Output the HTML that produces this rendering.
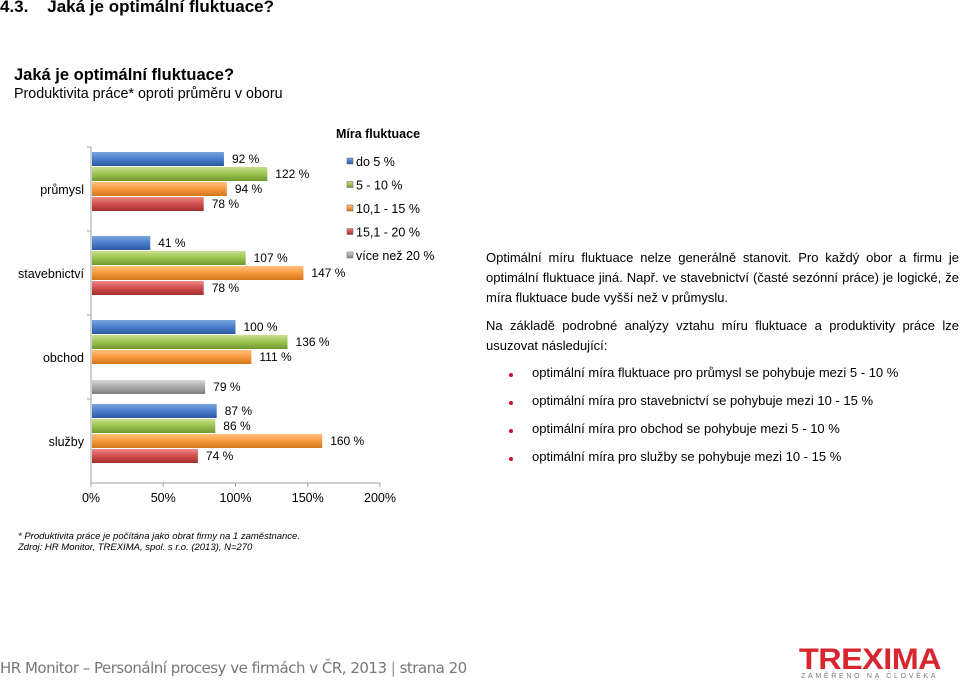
<!DOCTYPE html>
<html><head><meta charset="utf-8"><style>
body{margin:0;width:960px;height:684px;background:#fff;position:relative;overflow:hidden;font-family:"Liberation Sans",Arial,sans-serif;color:#000}
.a{position:absolute;white-space:nowrap}
.p{position:absolute;left:486px;width:473px;font-size:13px;line-height:20px;text-align:justify;color:#000}
.b{position:absolute;left:532px;font-size:13px}
.dot{position:absolute;left:509px;width:4px;height:4px;border-radius:50%;background:#c8102e}
</style></head><body>
<div class="a" style="left:0;top:-3px;font-size:17px;font-weight:bold">4.3.&nbsp;&nbsp;&nbsp;&nbsp;Jaká je optimální fluktuace?</div>
<div class="a" style="left:14px;top:66px;font-size:16.5px;font-weight:bold">Jaká je optimální fluktuace?</div>
<div class="a" style="left:14px;top:86px;font-size:14.3px">Produktivita práce* oproti průměru v oboru</div>

<svg id="chart" width="480" height="520" style="position:absolute;left:0;top:0" font-family="Liberation Sans, Arial, sans-serif">
<defs>
<linearGradient id="g0" x1="0" y1="0" x2="0" y2="1"><stop offset="0" stop-color="#7aa4e0"/><stop offset=".5" stop-color="#4a7dcb"/><stop offset="1" stop-color="#2c5aa0"/></linearGradient>
<linearGradient id="g1" x1="0" y1="0" x2="0" y2="1"><stop offset="0" stop-color="#c8e08a"/><stop offset=".5" stop-color="#9bc350"/><stop offset="1" stop-color="#6f9630"/></linearGradient>
<linearGradient id="g2" x1="0" y1="0" x2="0" y2="1"><stop offset="0" stop-color="#ffc080"/><stop offset=".5" stop-color="#f79a3c"/><stop offset="1" stop-color="#d2751d"/></linearGradient>
<linearGradient id="g3" x1="0" y1="0" x2="0" y2="1"><stop offset="0" stop-color="#ec8a88"/><stop offset=".5" stop-color="#cf4e4c"/><stop offset="1" stop-color="#a32f2d"/></linearGradient>
<linearGradient id="g4" x1="0" y1="0" x2="0" y2="1"><stop offset="0" stop-color="#d8d8d8"/><stop offset=".5" stop-color="#a8a8a8"/><stop offset="1" stop-color="#808080"/></linearGradient>
</defs>
</svg>

<div class="p" style="top:248px">Optimální míru fluktuace nelze generálně stanovit. Pro každý obor a firmu je optimální fluktuace jiná. Např. ve stavebnictví (časté sezónní práce) je logické, že míra fluktuace bude vyšší než v průmyslu.</div>
<div class="p" style="top:316px">Na základě podrobné analýzy vztahu míru fluktuace a produktivity práce lze usuzovat následující:</div>
<div class="dot" style="top:373px"></div>
<div class="b" style="top:365px">optimální míra fluktuace pro průmysl se pohybuje mezi 5 - 10 %</div>
<div class="dot" style="top:401px"></div>
<div class="b" style="top:393px">optimální míra pro stavebnictví se pohybuje mezi 10 - 15 %</div>
<div class="dot" style="top:429px"></div>
<div class="b" style="top:421px">optimální míra pro obchod se pohybuje mezi 5 - 10 %</div>
<div class="dot" style="top:457px"></div>
<div class="b" style="top:449px">optimální míra pro služby se pohybuje mezi 10 - 15 %</div>

<div class="a" style="left:18px;top:531px;font-size:9.5px;font-style:italic;line-height:11px">* Produktivita práce je počítána jako obrat firmy na 1 zaměstnance.<br>Zdroj: HR Monitor, TREXIMA, spol. s r.o.  (2013), N=270</div>
<div class="a" style="left:0;top:659px;font-size:15px;color:#777;font-family:'DejaVu Sans',sans-serif;letter-spacing:-0.5px">HR Monitor – Personální procesy ve firmách v ČR, 2013 <span style="color:#999">|</span> strana 20</div>
<div class="a" style="left:799px;top:643px;font-size:30px;font-weight:bold;color:#d7262f;letter-spacing:-0.5px;transform:scaleX(1.08);transform-origin:left">TREXIMA</div>
<div class="a" style="left:801px;top:673px;font-size:7px;color:#777;letter-spacing:2.7px">ZAMĚŘENO NA ČLOVĚKA</div>

<script>
const categories=["průmysl","stavebnictví","obchod","služby"];
const seriesNames=["do 5 %","5 - 10 %","10,1 - 15 %","15,1 - 20 %","více než 20 %"];
const s1=[92,41,100,87];
const s2=[122,107,136,86];
const s3=[94,147,111,160];
const s4=[78,78,null,74];
const s5=[null,null,79,null];
const ticks=[0,50,100,150,200];
const series=[s1,s2,s3,s4,s5];
const NS="http://www.w3.org/2000/svg";
const svg=document.getElementById('chart');
const x0=91,x1=380,yTop=147,yBot=483;
const xs=v=>x0+(x1-x0)*v/200;
const band=(yBot-yTop)/categories.length;
const slot=15;
const ys=(c,s)=>yTop+c*band+5+s*slot;
function mk(t,a){const e=document.createElementNS(NS,t);for(const k in a)e.setAttribute(k,a[k]);svg.appendChild(e);return e;}
let e=mk('line',{x1:x0,y1:yTop,x2:x0,y2:yBot,stroke:'#a0a0a0'});


e=mk('line',{x1:x0,y1:yBot,x2:x1,y2:yBot,stroke:'#a0a0a0'});


categories.forEach((c,i)=>{
  const t=mk('text',{x:84,y:yTop+i*band+band/2+5,'text-anchor':'end','font-size':12.5});
  t.textContent=c;
  
  
  const tk=mk('line',{x1:x0-4,y1:yTop+i*band,x2:x0,y2:yTop+i*band,stroke:'#a0a0a0'});
  
  
});
ticks.forEach(v=>{
  const l=mk('line',{x1:xs(v),y1:yBot,x2:xs(v),y2:yBot+4,stroke:'#a0a0a0'});
  
  
  const t=mk('text',{x:xs(v),y:yBot+19,'text-anchor':'middle','font-size':12.5});
  t.textContent=v+'%';
  
  
});
series.forEach((s,si)=>{
  s.forEach((v,ci)=>{
    if(v==null)return;
    const y=ys(ci,si);
    const r=mk('rect',{x:x0+1,y:y,width:xs(v)-x0-1,height:14,fill:'url(#g'+si+')'});
    
    
    const t=mk('text',{x:xs(v)+8,y:y+11,'font-size':12});
    t.textContent=v+' %';
    
    
  });
});
let lt=mk('text',{x:378,y:138,'text-anchor':'middle','font-size':12.5,'font-weight':'bold'});
lt.textContent='Míra fluktuace';


seriesNames.forEach((n,i)=>{
  const y=156+i*23.5;
  const r=mk('rect',{x:347,y:y+2,width:6,height:6,fill:'url(#g'+i+')',stroke:'#666','stroke-width':0.5});
  
  
  const t=mk('text',{x:356,y:y+10,'font-size':12.5});
  t.textContent=n;
  
  
});
</script>
</body></html>
